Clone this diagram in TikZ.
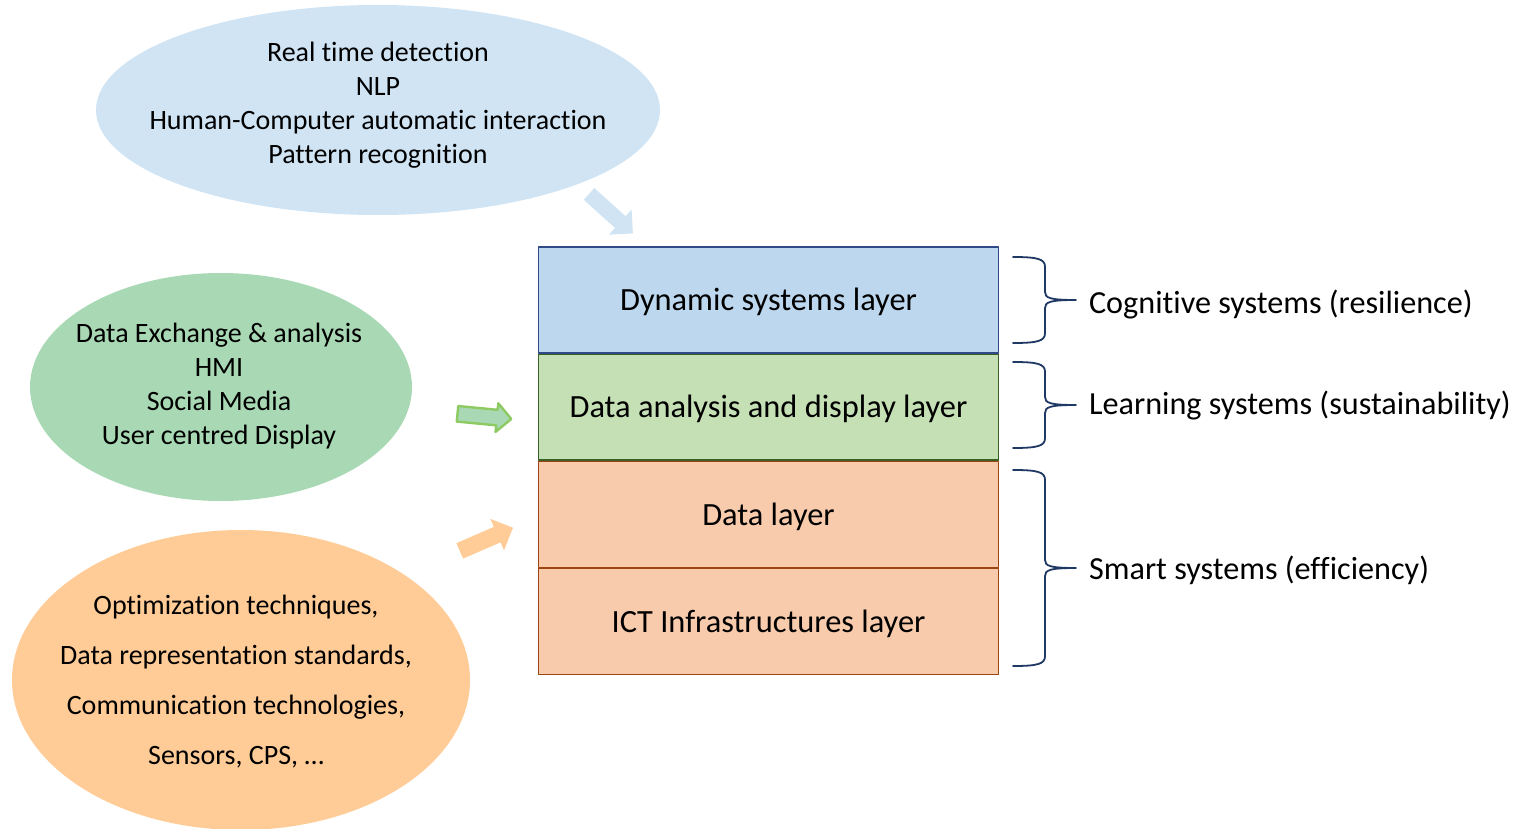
\documentclass[tikz,border=0pt]{standalone}
\usepackage{fontspec}
\setmainfont{Carlito}[Ligatures=NoCommon]
\usepackage{tikz}
\usetikzlibrary{positioning}
\usetikzlibrary{shapes.geometric}
\usetikzlibrary{shapes.arrows}
\definecolor{ellblau}{HTML}{D0E4F4}
\definecolor{ellgruen}{HTML}{A9D9B4}
\definecolor{ellorange}{HTML}{FFCB96}
\definecolor{boxblau}{HTML}{BDD7EE}
\definecolor{boxgruen}{HTML}{C5E0B4}
\definecolor{boxorange}{HTML}{F8CBAD}
\definecolor{randblau}{HTML}{2F4A86}
\definecolor{randgruen}{HTML}{3A5E26}
\definecolor{randorange}{HTML}{9C4510}
\definecolor{pfeilgruen}{HTML}{8DCB62}
\definecolor{klammerblau}{HTML}{203864}

\begin{document}
\begin{tikzpicture}[line cap=round,line join=round, x=0.5pt,y=-0.5pt,
    oval/.style={ellipse, inner sep=0pt},
    ovaltext/.style={align=center, font=\fontsize{14}{17}\selectfont},
    schicht/.style={rectangle, minimum width=230pt, minimum height=52.9pt, line width=0.7pt, font=\fontsize{16.2}{19}\selectfont, text depth=0.5pt},
    pfeil/.style={single arrow, inner xsep=0pt, single arrow tip angle=90},
    ebene/.style={anchor=west, font=\fontsize{16.1}{19}\selectfont}]
	\useasboundingbox (0,0) rectangle (1522,829);
	% Ovale mit Methoden
	\node[oval, fill=ellblau, minimum width=282pt, minimum height=105pt] (kogOval) at (378,110) {};
	\node[oval, fill=ellgruen, minimum width=191pt, minimum height=114pt] (lernOval) at (221,387) {};
	\node[oval, fill=ellorange, minimum width=229pt, minimum height=150pt] (smartOval) at (241,680) {};
	\node[ovaltext] (kogText) at (378,105.5) {Real time detection\\NLP\\Human-Computer automatic interaction\\Pattern recognition};
	\node[ovaltext] (lernText) at (219,386.5) {Data Exchange \& analysis\\HMI\\Social Media\\User centred Display};
	\node[ovaltext, font=\fontsize{14}{25}\selectfont] (smartText) at (236,682) {Optimization techniques,\\Data representation standards,\\Communication technologies,\\Sensors, CPS, \dots};
	% Schichten
	\node[schicht, fill=boxorange, draw=randorange] (ict) at (768.5,621.5) {ICT Infrastructures layer};
	\node[schicht, fill=boxorange, draw=randorange, above=0pt of ict] (daten) {Data layer};
	\node[schicht, fill=boxgruen, draw=randgruen, above=0pt of daten] (analyse) {Data analysis and display layer};
	\node[schicht, fill=boxblau, draw=randblau, above=0pt of analyse] (dynamik) {Dynamic systems layer};
	% Pfeile
	\node[pfeil, fill=ellblau, inner ysep=3.75pt, single arrow head extend=4.5pt, minimum height=29.5pt, rotate=-42] (kogPfeil) at (608,211) {};
	\node[pfeil, fill=ellgruen, draw=pfeilgruen, line width=1.2pt, inner ysep=3.3pt, single arrow head extend=3.3pt, minimum height=27pt, rotate=-5.5] (lernPfeil) at (480.5,416) {};
	\node[pfeil, fill=ellorange, inner ysep=4pt, single arrow head extend=4.4pt, minimum height=29pt, rotate=23.5] (smartPfeil) at (482.5,541) {};
	% Klammern
	\foreach \o/\u in {257/343,362/448,470/666}{
		\pgfmathsetmacro\m{(\o+\u)/2}
		\draw[klammerblau, line width=0.9pt] (1013,\o) .. controls (1038,\o) and (1045,\o+2) .. (1045,\o+10) -- (1045,\m-8) .. controls (1045,\m-2) and (1050,\m) .. (1076,\m) .. controls (1050,\m) and (1045,\m+2) .. (1045,\m+8) -- (1045,\u-10) .. controls (1045,\u-2) and (1038,\u) .. (1013,\u);
	}
	\node[ebene] (kogSys) at (1082,304) {Cognitive systems (resilience)};
	\node[ebene] (lernSys) at (1082,405) {Learning systems (sustainability)};
	\node[ebene] (smartSys) at (1082,570) {Smart systems (efficiency)};
\end{tikzpicture}
\end{document}
